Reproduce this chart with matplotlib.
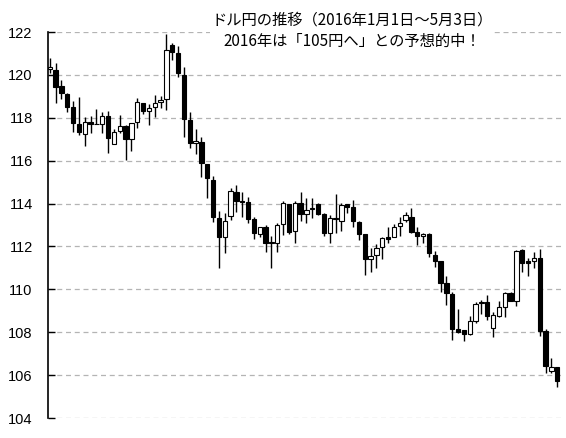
import matplotlib
matplotlib.use("Agg")
import matplotlib.pyplot as plt
import numpy as np

# USD/JPY daily candles, 2016-01-04 .. 2016-05-03
opens = [120.26, 120.23, 119.48, 119.11, 118.49, 117.70, 117.23, 117.79, 117.70, 117.71,
         118.08, 116.76, 117.38, 117.63, 117.00, 117.79, 118.67, 118.33, 118.49, 118.72,
         118.86, 121.39, 121.00, 119.99, 117.90, 116.81, 116.86, 115.84, 115.10, 113.31,
         112.45, 113.42, 114.55, 114.08, 114.06, 113.26, 112.58, 112.89, 112.17, 112.17,
         113.03, 113.98, 112.72, 114.01, 113.50, 113.74, 113.98, 113.50, 112.61, 113.28,
         113.20, 113.98, 113.85, 113.13, 112.58, 111.40, 111.60, 111.99, 112.42, 112.42,
         112.95, 113.23, 113.39, 112.66, 112.49, 112.56, 111.60, 111.32, 110.28, 109.78,
         108.15, 108.10, 107.91, 108.53, 109.38, 109.40, 108.18, 108.77, 109.19, 109.81,
         109.47, 111.83, 111.30, 111.33, 111.44, 108.05, 106.20, 106.36]
highs = [120.79, 120.54, 119.76, 119.14, 118.78, 118.95, 118.02, 118.08, 118.40, 118.28,
         118.32, 117.46, 118.13, 117.66, 117.77, 118.94, 118.70, 118.64, 119.06, 119.01,
         121.91, 121.50, 121.35, 120.38, 118.28, 117.49, 117.09, 115.84, 115.28, 113.65,
         113.54, 114.71, 114.86, 114.52, 114.32, 113.39, 112.92, 113.00, 112.49, 113.11,
         114.12, 113.98, 114.13, 114.52, 114.24, 114.24, 114.01, 113.54, 113.47, 114.44,
         114.04, 113.98, 114.16, 113.18, 112.58, 111.91, 112.10, 112.42, 112.92, 113.04,
         113.39, 113.62, 113.78, 112.89, 112.64, 112.64, 111.79, 111.32, 110.62, 109.86,
         109.08, 108.10, 108.75, 109.39, 109.50, 109.73, 108.96, 109.45, 109.86, 109.87,
         111.83, 111.86, 111.44, 111.74, 111.88, 108.13, 106.81, 106.36]
lows = [120.09, 118.70, 118.86, 118.28, 117.35, 117.20, 116.70, 117.28, 117.70, 117.30,
        116.37, 116.76, 117.28, 116.03, 116.46, 117.54, 118.18, 117.66, 118.02, 118.44,
        118.36, 120.69, 119.92, 117.09, 116.58, 116.30, 115.22, 114.24, 113.15, 110.98,
        111.68, 113.23, 113.62, 113.39, 113.10, 112.33, 112.45, 111.75, 110.98, 111.75,
        112.53, 112.56, 112.17, 113.20, 113.10, 113.34, 113.47, 112.49, 112.17, 112.61,
        112.73, 113.54, 112.92, 112.30, 110.67, 110.82, 110.98, 111.40, 112.14, 112.42,
        112.49, 113.15, 112.61, 112.07, 112.14, 111.49, 111.05, 109.89, 109.27, 107.63,
        107.95, 107.60, 107.87, 108.44, 108.85, 108.57, 107.79, 108.72, 108.72, 109.47,
        109.22, 110.82, 110.63, 111.01, 107.82, 106.11, 106.11, 105.46]
closes = [120.35, 119.45, 119.14, 118.52, 117.74, 117.32, 117.79, 117.70, 117.71, 118.08,
          117.04, 117.32, 117.63, 117.00, 117.74, 118.75, 118.33, 118.44, 118.67, 118.83,
          121.16, 121.08, 120.07, 117.93, 116.84, 116.90, 115.88, 115.18, 113.36, 112.45,
          113.20, 114.60, 114.12, 114.07, 113.26, 112.61, 112.89, 112.14, 112.16, 113.00,
          114.04, 112.69, 114.01, 113.50, 113.70, 113.75, 113.50, 112.61, 113.31, 113.29,
          113.93, 113.85, 113.20, 112.56, 111.40, 111.55, 111.91, 112.38, 112.34, 112.89,
          113.08, 113.46, 112.69, 112.49, 112.56, 111.71, 111.33, 110.31, 109.81, 108.15,
          108.02, 107.91, 108.52, 109.31, 109.39, 108.75, 108.80, 109.16, 109.81, 109.47,
          111.79, 111.21, 111.22, 111.44, 108.07, 106.44, 106.36, 105.74]

yticks = [104, 106, 108, 110, 112, 114, 116, 118, 120, 122]
title = "ドル円の推移（2016年1月1日～5月3日）\n2016年は「105円へ」との予想的中！"

o = np.array(opens)
h = np.array(highs)
l = np.array(lows)
c = np.array(closes)
x = np.arange(len(o))

fig = plt.figure(figsize=(5.66, 4.38), dpi=100)
ax = fig.add_axes([48/566, 1-418/438, (563-48)/566, 386/438])

ax.vlines(x, l, h, color="black", linewidth=1, zorder=2)
up = c >= o
body = np.maximum(np.abs(c - o), 0.03)
bottom = np.minimum(o, c)
ax.bar(x[up], body[up], bottom=bottom[up], width=0.75, color="white",
       edgecolor="black", linewidth=0.8, zorder=3)
ax.bar(x[~up], body[~up], bottom=bottom[~up], width=0.75, color="black",
       edgecolor="black", linewidth=0.8, zorder=3)

ax.set_xlim(-0.29, 87.98)
ax.set_ylim(104, 122)
ax.set_yticks(yticks)
ax.set_yticklabels([str(t) for t in yticks], family="Liberation Sans", fontsize=10.5)
ax.tick_params(axis="y", direction="in", length=5, width=1, pad=11)
ax.set_xticks([])
for s in ["top", "right", "bottom"]:
    ax.spines[s].set_visible(False)
ax.spines["left"].set_linewidth(1.2)
ax.grid(axis="y", color="#b4b4b4", linestyle=(0, (4, 3)), linewidth=0.9)
ax.set_axisbelow(True)

fig.text(352/566, 1-31/438, title, ha="center", va="center", fontsize=11,
         family=["Noto Sans CJK JP", "DejaVu Sans"], linespacing=1.35,
         bbox=dict(facecolor="white", edgecolor="none", pad=1))

fig.savefig("out.png", dpi=100)
